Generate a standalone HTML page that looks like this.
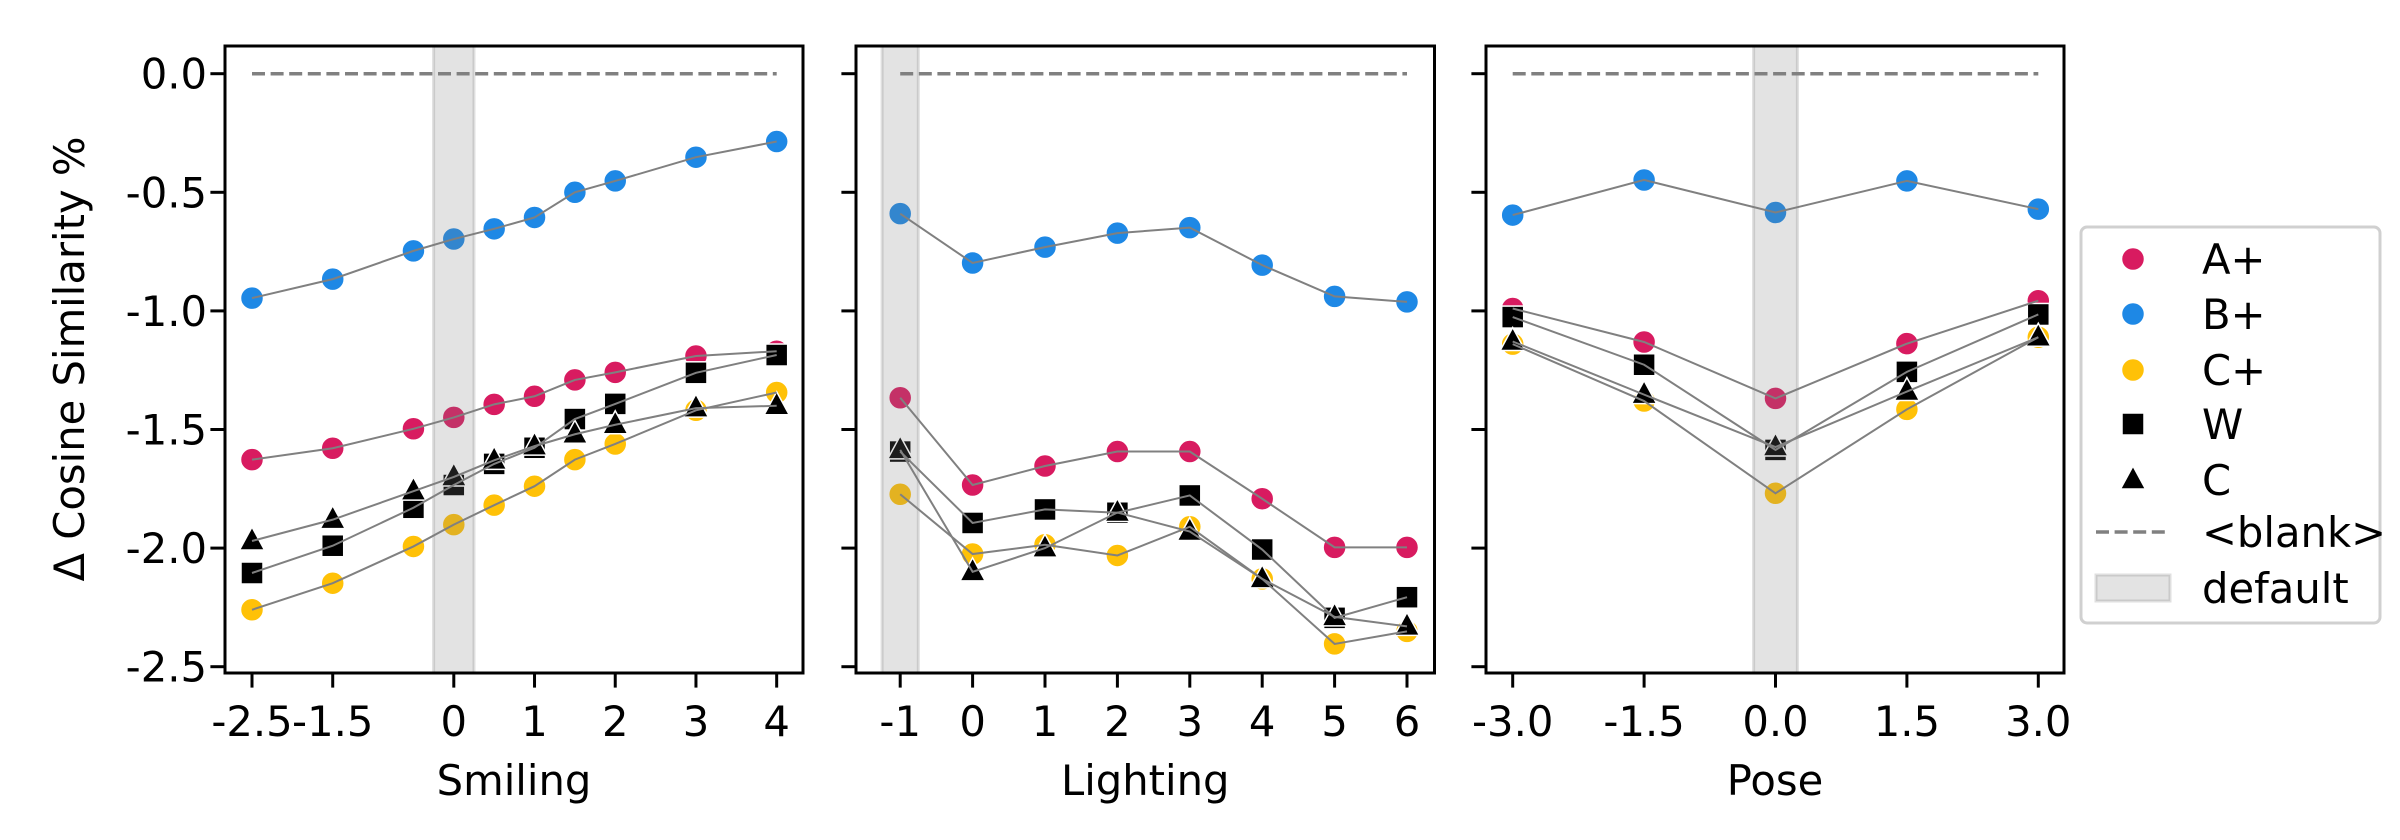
<!DOCTYPE html>
<html><head><meta charset="utf-8"><style>
html,body{margin:0;padding:0;background:#fff;}
svg{display:block;font-family:"DejaVu Sans","Liberation Sans",sans-serif;}
</style></head><body>
<svg id="chart" width="2400" height="840" viewBox="0 0 2400 840" xmlns="http://www.w3.org/2000/svg"></svg>
<script>
// ---- data ----
const smilingX = [-2.5,-1.5,-0.5,0,0.5,1,1.5,2,3,4];
const smilingAplus = [-1.627,-1.579,-1.497,-1.449,-1.394,-1.36,-1.291,-1.259,-1.19,-1.17];
const smilingBplus = [-0.946,-0.866,-0.747,-0.697,-0.654,-0.606,-0.50,-0.452,-0.352,-0.286];
const smilingCplus = [-2.26,-2.148,-1.993,-1.901,-1.819,-1.739,-1.627,-1.561,-1.419,-1.344];
const smilingW = [-2.105,-1.99,-1.83,-1.734,-1.645,-1.577,-1.456,-1.392,-1.261,-1.186];
const smilingC = [-1.97,-1.88,-1.76,-1.70,-1.63,-1.57,-1.52,-1.48,-1.41,-1.40];
const smilingTicks = [-2.5,-1.5,0,1,2,3,4];
const smilingTickLabels = ["-2.5","-1.5","0","1","2","3","4"];

const lightingX = [-1,0,1,2,3,4,5,6];
const lightingAplus = [-1.366,-1.734,-1.654,-1.593,-1.593,-1.792,-1.997,-1.997];
const lightingBplus = [-0.59,-0.798,-0.731,-0.672,-0.649,-0.807,-0.939,-0.962];
const lightingCplus = [-1.773,-2.025,-1.986,-2.031,-1.91,-2.13,-2.404,-2.351];
const lightingW = [-1.593,-1.894,-1.837,-1.851,-1.778,-2.006,-2.294,-2.207];
const lightingC = [-1.586,-2.10,-2.0,-1.85,-1.93,-2.13,-2.29,-2.33];
const lightingTicks = [-1,0,1,2,3,4,5,6];
const lightingTickLabels = ["-1","0","1","2","3","4","5","6"];

const poseX = [-3,-1.5,0,1.5,3];
const poseAplus = [-0.99,-1.131,-1.369,-1.138,-0.957];
const poseBplus = [-0.596,-0.448,-0.585,-0.452,-0.571];
const poseCplus = [-1.14,-1.38,-1.769,-1.415,-1.111];
const poseW = [-1.026,-1.227,-1.586,-1.257,-1.015];
const poseC = [-1.129,-1.353,-1.574,-1.34,-1.111];
const poseTicks = [-3,-1.5,0,1.5,3];
const poseTickLabels = ["-3.0","-1.5","0.0","1.5","3.0"];

const yTicks = [0,-0.5,-1,-1.5,-2,-2.5];
const yTickLabels = ["0.0","-0.5","-1.0","-1.5","-2.0","-2.5"];
const seriesNames = ["A+","B+","C+","W","C"];
const defaults = [0,-1,0];

// ---- layout ----
const NS="http://www.w3.org/2000/svg";
const svg=document.getElementById('chart');
function mk(tag,attrs,parent){const e=document.createElementNS(NS,tag);for(const k in attrs)e.setAttribute(k,attrs[k]);(parent||svg).appendChild(e);return e;}
const TOP=46,BOT=673;
const Y0=73.7, YPER=237.2;
function yS(v){return Y0-v*YPER;}
const colors={"A+":"#d81b60","B+":"#1e88e5","C+":"#ffc107","W":"#000","C":"#000"};
const FS=41.7;

function marker(g,kind,cx,cy,color){
  let e;
  if(kind==='circle'){e=mk('circle',{cx:cx,cy:cy,r:11.5,fill:color,stroke:'#fff','stroke-width':1.5},g);}
  else if(kind==='square'){e=mk('rect',{x:cx-11,y:cy-11,width:22,height:22,fill:color,stroke:'#fff','stroke-width':1.5},g);}
  else {e=mk('polygon',{points:`${cx},${cy-14} ${cx+12.5},${cy+9} ${cx-12.5},${cy+9}`,fill:color,stroke:'#fff','stroke-width':1.5},g);}
  return e;
}

const panels=[
 {name:'smiling',label:'Smiling',L:225,R:803,x0:453.8,xper:80.72,xs:smilingX,data:[smilingAplus,smilingBplus,smilingCplus,smilingW,smilingC],ticks:smilingTicks,tl:smilingTickLabels,yl:true},
 {name:'lighting',label:'Lighting',L:856,R:1434.5,x0:972.6,xper:72.4,xs:lightingX,data:[lightingAplus,lightingBplus,lightingCplus,lightingW,lightingC],ticks:lightingTicks,tl:lightingTickLabels,yl:false},
 {name:'pose',label:'Pose',L:1486,R:2064,x0:1775.5,xper:87.6,xs:poseX,data:[poseAplus,poseBplus,poseCplus,poseW,poseC],ticks:poseTicks,tl:poseTickLabels,yl:false}
];
const kinds=['circle','circle','circle','square','triangle'];

panels.forEach((p,pi)=>{
  const g=mk('g',{});
  
  
  const xS=v=>p.x0+v*p.xper;
  const dl=mk('line',{x1:xS(p.xs[0]),x2:xS(p.xs[p.xs.length-1]),y1:yS(0),y2:yS(0),stroke:'#808080','stroke-width':3.5,'stroke-dasharray':'13 5.6'},g);
  
  
  p.data.forEach((arr,si)=>{
    const sg=mk('g',{},g);
    
    
    arr.forEach((v,i)=>{
      const m=marker(sg,kinds[si],xS(p.xs[i]),yS(v),colors[seriesNames[si]]);
      
      
    });
  });
  p.data.forEach((arr,si)=>{
    const pts=arr.map((v,i)=>xS(p.xs[i])+','+yS(v)).join(' ');
    const pl=mk('polyline',{points:pts,fill:'none',stroke:'#808080','stroke-width':2},g);
    
    
  });
  const d=defaults[pi];
  const sh=mk('rect',{x:xS(d-0.25),y:TOP,width:xS(d+0.25)-xS(d-0.25),height:BOT-TOP,fill:'rgba(128,128,128,0.22)',stroke:'rgba(128,128,128,0.25)','stroke-width':3},g);
  
  
  const fr=mk('rect',{x:p.L,y:TOP,width:p.R-p.L,height:BOT-TOP,fill:'none',stroke:'#000','stroke-width':3},g);
  
  
  yTicks.forEach((t,i)=>{
    mk('line',{x1:p.L-14.6,x2:p.L,y1:yS(t),y2:yS(t),stroke:'#000','stroke-width':3},g);
    if(p.yl){
      const tx=mk('text',{x:p.L-18,y:yS(t)+15,'text-anchor':'end','font-size':FS,fill:'#000'},g);
      tx.textContent=yTickLabels[i];
      
      
    }
  });
  p.ticks.forEach((t,i)=>{
    mk('line',{x1:xS(t),x2:xS(t),y1:BOT,y2:BOT+14.6,stroke:'#000','stroke-width':3},g);
    const tx=mk('text',{x:xS(t),y:736,'text-anchor':'middle','font-size':FS,fill:'#000'},g);
    tx.textContent=p.tl[i];
    
    
  });
  const xl=mk('text',{x:(p.L+p.R)/2,y:795,'text-anchor':'middle','font-size':FS,fill:'#000'},g);
  xl.textContent=p.label;
  
  
});

const yl=mk('text',{x:0,y:0,'text-anchor':'middle','font-size':FS,fill:'#000',transform:'translate(84,359) rotate(-90)'});
yl.textContent='Δ Cosine Similarity %';



const lg=mk('g',{});


mk('rect',{x:2081,y:227,width:299,height:396,rx:6,fill:'#fff',stroke:'#d0d0d0','stroke-width':3},lg);
const legY=[259,314,370,424,480,532,588];
seriesNames.forEach((n,i)=>{
  const e=mk('g',{},lg);
  
  
  marker(e,kinds[i],2133,legY[i],colors[n]);
  const t=mk('text',{x:2202,y:legY[i]+15,'font-size':FS,fill:'#000'},e);
  t.textContent=n;
});
const eb=mk('g',{},lg);


mk('line',{x1:2096,x2:2170,y1:legY[5],y2:legY[5],stroke:'#808080','stroke-width':3.5,'stroke-dasharray':'13 5.6'},eb);
const tb=mk('text',{x:2202,y:legY[5]+15,'font-size':FS,fill:'#000'},eb);
tb.textContent='<blank>';
const ed=mk('g',{},lg);


mk('rect',{x:2096,y:575,width:74,height:26,fill:'rgba(128,128,128,0.22)',stroke:'rgba(128,128,128,0.25)','stroke-width':3},ed);
const td=mk('text',{x:2202,y:legY[6]+15,'font-size':FS,fill:'#000'},ed);
td.textContent='default';
</script>
</body></html>
